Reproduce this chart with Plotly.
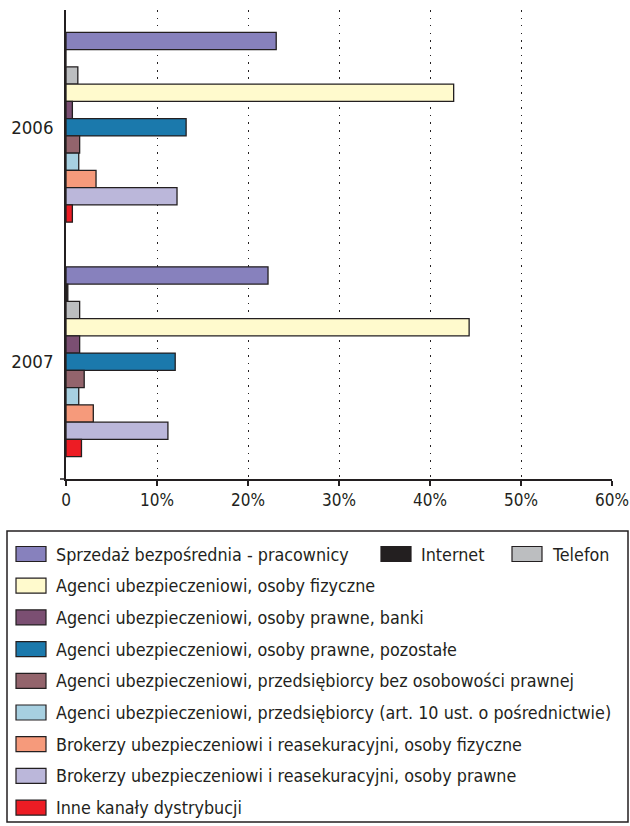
import plotly.graph_objects as go

# Distribution channel shares (%) by year
years = ["2006", "2007"]

channel_names = [
    "Sprzedaż bezpośrednia - pracownicy",
    "Internet",
    "Telefon",
    "Agenci ubezpieczeniowi, osoby fizyczne",
    "Agenci ubezpieczeniowi, osoby prawne, banki",
    "Agenci ubezpieczeniowi, osoby prawne, pozostałe",
    "Agenci ubezpieczeniowi, przedsiębiorcy bez osobowości prawnej",
    "Agenci ubezpieczeniowi, przedsiębiorcy (art. 10 ust. o pośrednictwie)",
    "Brokerzy ubezpieczeniowi i reasekuracyjni, osoby fizyczne",
    "Brokerzy ubezpieczeniowi i reasekuracyjni, osoby prawne",
    "Inne kanały dystrybucji",
]

share_2006 = [23.1, 0.0, 1.3, 42.6, 0.7, 13.2, 1.5, 1.4, 3.3, 12.2, 0.7]
share_2007 = [22.2, 0.2, 1.5, 44.3, 1.5, 12.0, 2.0, 1.4, 3.0, 11.2, 1.7]

channel_colors = [
    "#8781bd", "#231f20", "#bcbec0", "#fffacd", "#7b4f72", "#1b79ac",
    "#93646c", "#a7d0e1", "#f69a7b", "#bbb7da", "#ed1c24",
]

tick_values = [0, 10, 20, 30, 40, 50, 60]
tick_labels = ["0", "10%", "20%", "30%", "40%", "50%", "60%"]

FONT = "DejaVu Sans Condensed, Liberation Sans Narrow, Arial Narrow, sans-serif"
INK = "#231f20"

W, H = 630, 826
ML, MR, MT, MB = 66, 18, 10, 347
PW = W - ML - MR
PH = H - MT - MB


def fx(px):
    """Pixel x -> paper x."""
    return (px - ML) / PW


def fy(py):
    """Pixel y (from top) -> paper y."""
    return (H - MB - py) / PH


fig = go.Figure()
for name, color, v06, v07 in zip(channel_names, channel_colors, share_2006, share_2007):
    fig.add_trace(go.Bar(
        y=years,
        x=[v06, v07],
        orientation="h",
        name=name,
        marker=dict(color=color, line=dict(color=INK, width=1.3)),
        showlegend=False,
        hovertemplate="%{y}: %{x:.1f}%<extra>" + name + "</extra>",
    ))

shapes = []
annotations = []

# short extension of the value axis line to the left of zero
shapes.append(dict(type="line", xref="paper", yref="paper",
                   x0=fx(60), x1=0, y0=0, y1=0,
                   line=dict(color=INK, width=1.5)))

# legend frame
shapes.append(dict(type="rect", xref="paper", yref="paper",
                   x0=fx(7), x1=fx(628), y0=fy(531), y1=fy(822),
                   line=dict(color=INK, width=1.5), fillcolor="white", layer="below"))

# legend entries: (series index, swatch left px, row)
legend_layout = [(0, 16, 0), (1, 381, 0), (2, 512, 0)] + [(i, 16, i - 2) for i in range(3, 11)]
row_y0, row_step = 554, 31.7
sw_w, sw_h = 30, 15
for idx, sx, row in legend_layout:
    cy = row_y0 + row * row_step
    shapes.append(dict(type="rect", xref="paper", yref="paper",
                       x0=fx(sx), x1=fx(sx + sw_w),
                       y0=fy(cy + sw_h / 2), y1=fy(cy - sw_h / 2),
                       fillcolor=channel_colors[idx],
                       line=dict(color=INK, width=1.2)))
    annotations.append(dict(xref="paper", yref="paper",
                            x=fx(sx + sw_w + 8), y=fy(cy),
                            xanchor="left", yanchor="middle",
                            text=channel_names[idx], showarrow=False,
                            font=dict(family=FONT, size=17.8, color=INK)))

fig.update_layout(
    width=W, height=H,
    margin=dict(l=ML, r=MR, t=MT, b=MB, pad=0),
    paper_bgcolor="white", plot_bgcolor="white",
    barmode="group", bargap=0.19, bargroupgap=0,
    font=dict(family=FONT, color=INK),
    shapes=shapes,
    annotations=annotations,
    xaxis=dict(
        range=[0, 60], tickvals=tick_values, ticktext=tick_labels,
        showgrid=True, gridcolor=INK, gridwidth=1.3, griddash="1.5px,6px",
        showline=True, linecolor=INK, linewidth=1.5,
        ticks="outside", ticklen=5, tickwidth=1.5, tickcolor=INK,
        zeroline=False, automargin=False, ticklabeloverflow="allow",
        tickfont=dict(family=FONT, size=17, color=INK),
        fixedrange=True,
    ),
    yaxis=dict(
        type="category", range=[1.5, -0.5],
        showline=True, linecolor=INK, linewidth=1.5,
        showgrid=False, zeroline=False, ticks="",
        ticklabelstandoff=7, automargin=False,
        tickfont=dict(family=FONT, size=18.5, color=INK),
        fixedrange=True,
    ),
)

fig.write_html("out.html")
